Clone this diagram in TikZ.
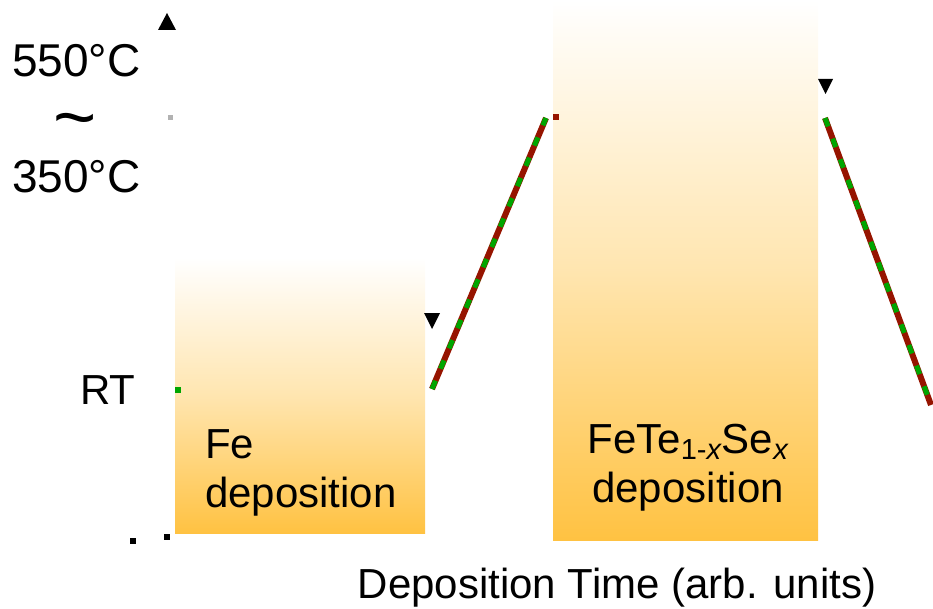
\documentclass[tikz,border=0pt]{standalone}
\usepackage{fontspec}
\setmainfont{Liberation Sans}
\definecolor{boxorange}{RGB}{255,194,66}
\definecolor{linered}{RGB}{150,20,0}
\definecolor{linegreen}{RGB}{0,165,0}
\begin{document}
\begin{tikzpicture}[x=1pt,y=-1pt,
  lbl/.style={inner sep=0pt,anchor=base west,font=\fontsize{42}{49}\selectfont},
  tlbl/.style={inner sep=0pt,anchor=base west,font=\fontsize{46}{52}\selectfont},
  ramp/.style={line width=6pt,draw=linered},
  rampdash/.style={line width=5pt,draw=linegreen,dash pattern=on 9pt off 13pt},
  tri/.style={fill=black},
  dot/.style={inner sep=0pt,minimum size=6pt,draw=none}]
\useasboundingbox (0,0) rectangle (933,609);
% boxes
\shade[top color=white,bottom color=boxorange,middle color={boxorange!42!white}] (175,258) rectangle (425,533);
\shade[top color=white,bottom color=boxorange,middle color={boxorange!42!white}] (553,0) rectangle (818,540);
% ramps
\coordinate (a1) at (432,389);
\coordinate (a2) at (546,118);
\coordinate (b1) at (825,118);
\coordinate (b2) at (931,405);
\draw[ramp] (a1) -- (a2);
\draw[rampdash] (a1) -- (a2);
\draw[ramp] (b1) -- (b2);
\draw[rampdash] (b1) -- (b2);
% triangles
\fill[tri] (158,30) -- (176,30) -- (167,13) -- cycle;
\fill[tri] (424,313) -- (440,313) -- (432,329) -- cycle;
\fill[tri] (818,79) -- (833,79) -- (825.5,94) -- cycle;
% small markers
\node[dot,fill=black!30,minimum size=5pt] (m1) at (170,118) {};
\node[dot,fill=linered] (m2) at (556,117) {};
\node[dot,fill=linegreen] (m3) at (178,390) {};
\node[dot,fill=black] (m4) at (133,541) {};
\node[dot,fill=black] (m5) at (167,537) {};
% labels
\node[tlbl] (t550) at (12,77) {550°C};
\node[inner sep=0pt,font=\fontsize{74}{74}\selectfont] (tilde) at (75,128) {\textasciitilde};
\node[tlbl] (t350) at (12,193) {350°C};
\node[lbl] (rt) at (80,404) {RT};
\node[lbl] (fe1) at (205,458) {Fe};
\node[lbl] (fe2) at (205,507) {deposition};
\node[lbl,anchor=base] (fts1) at (688,453) {FeTe\raisebox{-6pt}{\fontsize{29}{29}\selectfont 1-\textit{x}}Se\raisebox{-6pt}{\fontsize{29}{29}\selectfont\textit{x}}};
\node[lbl,anchor=base] (fts2) at (688,502) {deposition};
\node[lbl,anchor=base] (xlab) at (617,598) {Deposition Time (arb. units)};
\end{tikzpicture}
\end{document}
